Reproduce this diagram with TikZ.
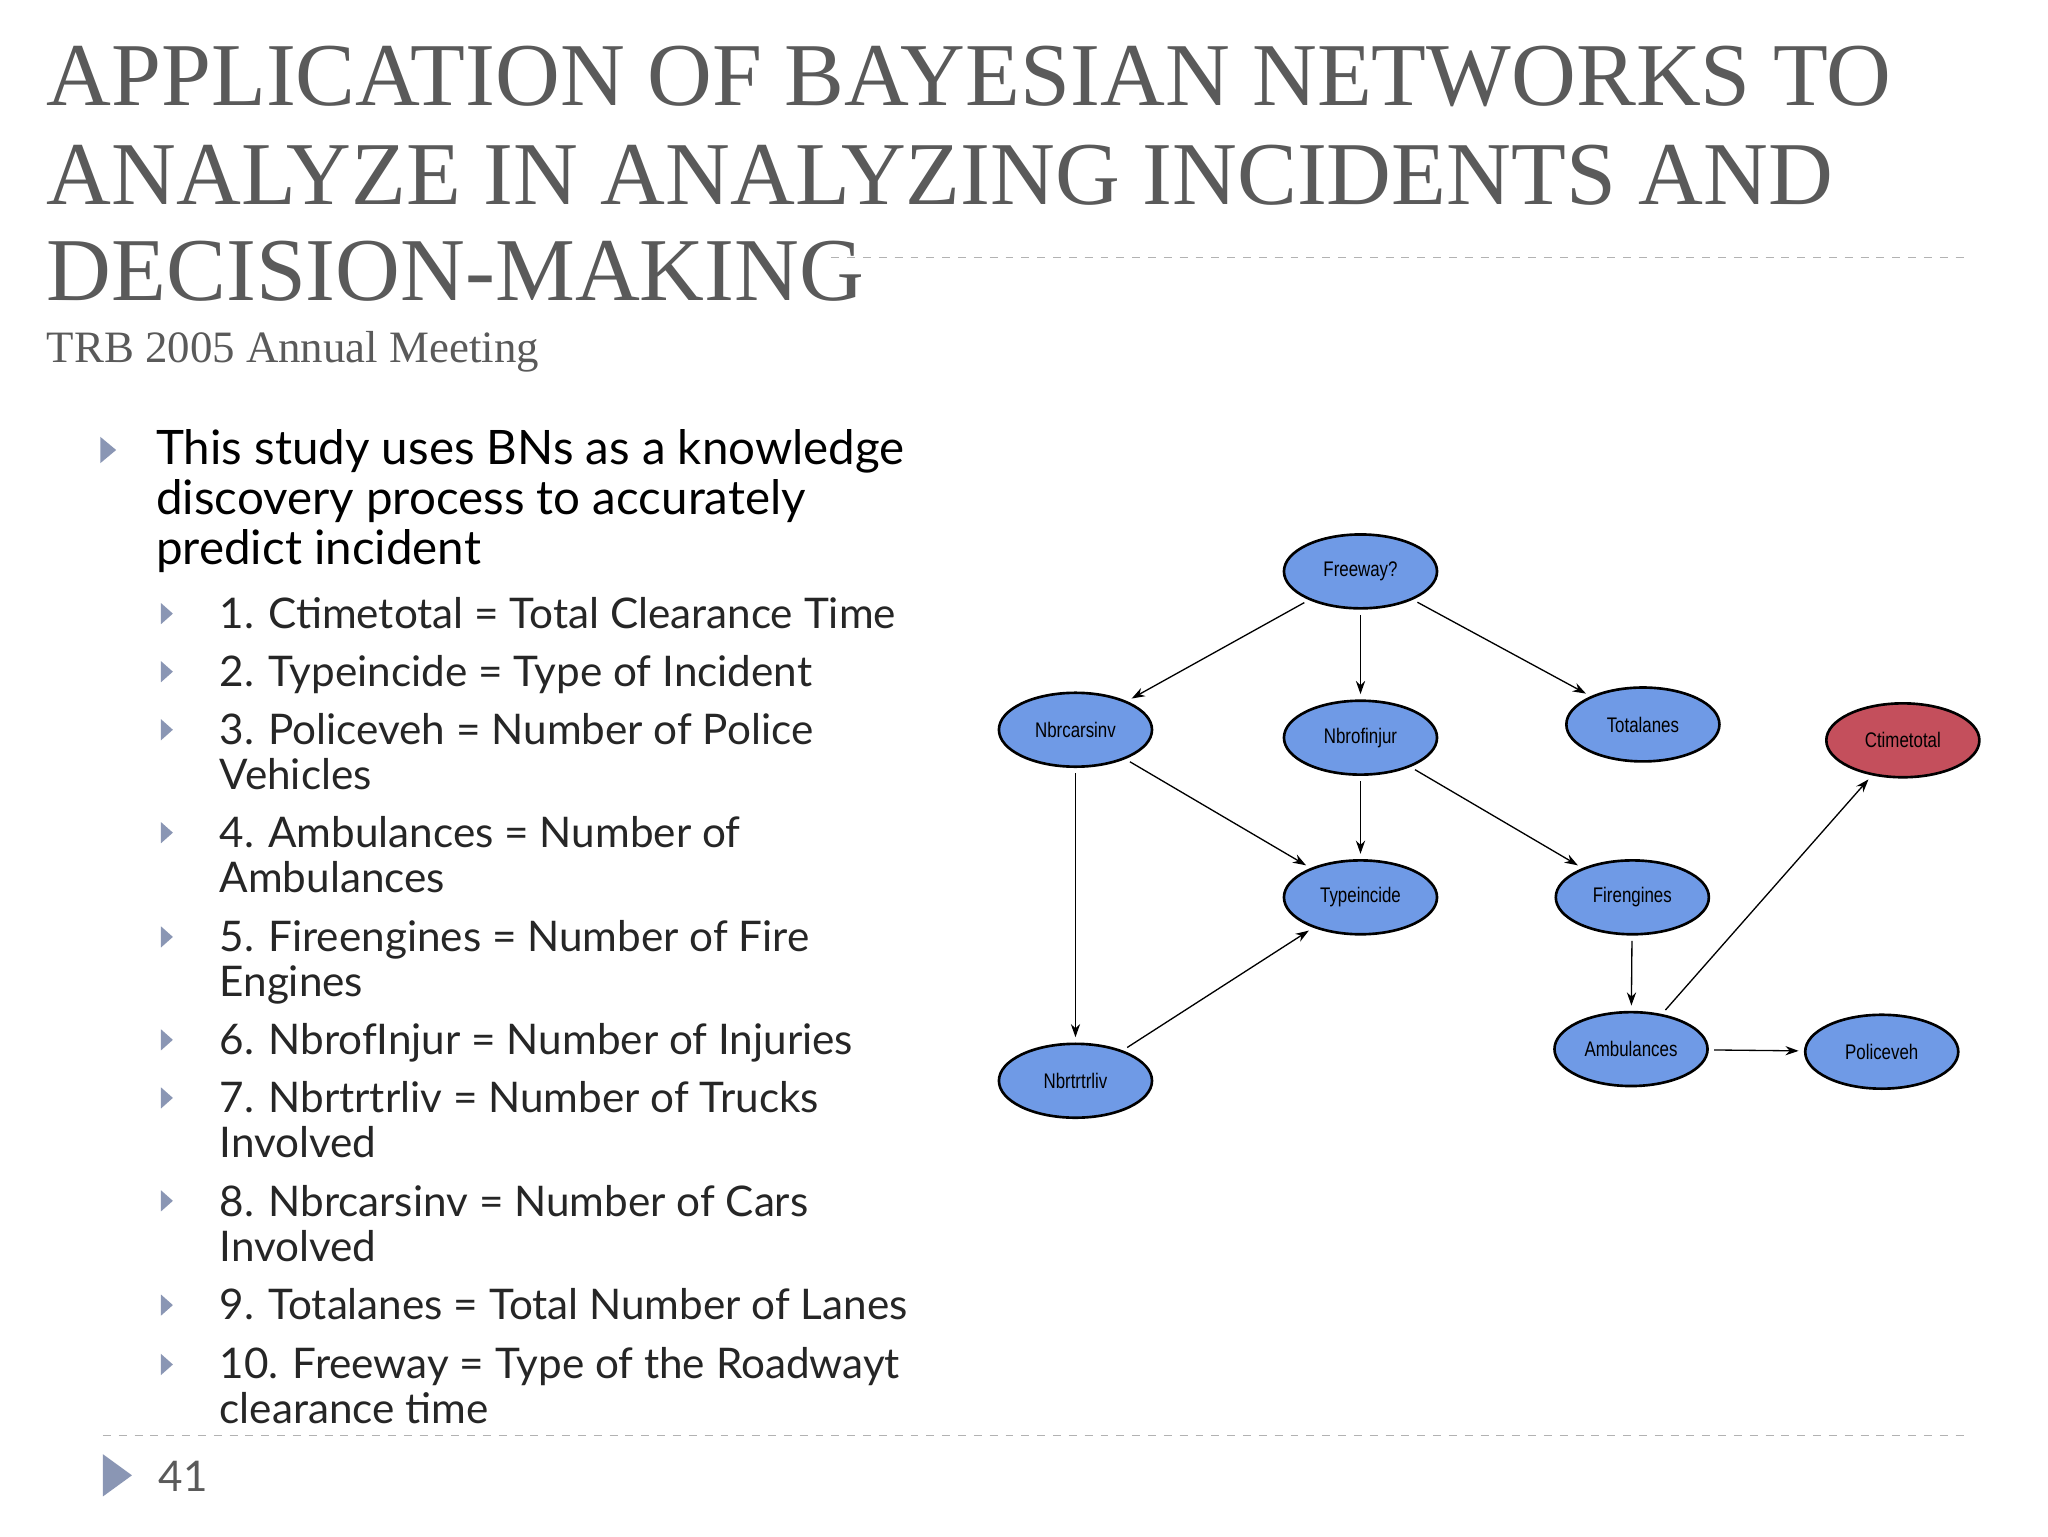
\documentclass[tikz,border=0pt]{standalone}
\usepackage{fontspec}
\setmainfont{Liberation Serif}
\newfontfamily\bodyf{Lato}
\newfontfamily\nodef{Liberation Sans}[FakeStretch=0.8]
\usetikzlibrary{shapes.geometric,arrows.meta}
\definecolor{ttl}{HTML}{5A5A5A}
\definecolor{bul}{HTML}{8A96B4}
\definecolor{nblue}{HTML}{6F9AE6}
\definecolor{nred}{HTML}{C44F5C}
\begin{document}
\begin{tikzpicture}[x=0.5pt,y=-0.5pt,
  bn/.style={ellipse,draw=black,line width=1pt,fill=nblue,minimum width=58pt,minimum height=28pt,inner sep=0pt,font=\fontsize{8}{9}\nodef},
  ar/.style={-{Stealth[length=5pt,width=3.5pt]},line width=0.5pt,shorten <=2pt,shorten >=2pt},
  tl/.style={anchor=base west,inner sep=0pt,font=\fontsize{34}{34}\selectfont,text=ttl},
  bt/.style={anchor=base west,inner sep=0pt,font=\fontsize{18}{18}\bodyf,text=black},
  st/.style={anchor=base west,inner sep=0pt,font=\fontsize{16}{16}\bodyf,text=black!85},
  tri/.style={fill=bul,draw=none}]
\useasboundingbox (0,0) rectangle (1552,1164);
\fill[white] (0,0) rectangle (1552,1164);
% title
\node[tl] (t1) at (35,80) {APPLICATION OF BAYESIAN NETWORKS TO};
\node[tl] (t2) at (35,155) {ANALYZE IN ANALYZING INCIDENTS AND};
\node[tl] (t3) at (35,228) {DECISION-MAKING};
\node[anchor=base west,inner sep=0pt,font=\fontsize{17}{17}\selectfont,text=ttl] (sub) at (35,275) {TRB 2005 Annual Meeting};
\draw[dashed,gray!60,line width=0.5pt] (630,195) -- (1490,195);
\draw[dashed,gray!60,line width=0.5pt] (78,1088) -- (1490,1088);
% bullets
\fill[tri] (76,331) -- (88,341) -- (76,351) -- cycle;
\node[bt] (b1) at (118,352) {This study uses BNs as a knowledge};
\node[bt] (b2) at (118,390) {discovery process to accurately};
\node[bt] (b3) at (118,428) {predict incident};
\foreach \y in {465,509,553,631,710,788,832,910,989,1034}
  \fill[tri] (122,\y-8) -- (131,\y) -- (122,\y+8) -- cycle;
\node[st] at (166,476) {1. Ctimetotal = Total Clearance Time};
\node[st] at (166,520) {2. Typeincide = Type of Incident};
\node[st] at (166,564) {3. Policeveh = Number of Police};
\node[st] at (166,598) {Vehicles};
\node[st] at (166,642) {4. Ambulances = Number of};
\node[st] at (166,676) {Ambulances};
\node[st] at (166,721) {5. Fireengines = Number of Fire};
\node[st] at (166,755) {Engines};
\node[st] at (166,799) {6. NbrofInjur = Number of Injuries};
\node[st] at (166,843) {7. Nbrtrtrliv = Number of Trucks};
\node[st] at (166,877) {Involved};
\node[st] at (166,922) {8. Nbrcarsinv = Number of Cars};
\node[st] at (166,956) {Involved};
\node[st] at (166,1000) {9. Totalanes = Total Number of Lanes};
\node[st] at (166,1045) {10. Freeway = Type of the Roadwayt};
\node[st] at (166,1079) {clearance time};
% footer
\fill[tri] (78,1102) -- (100,1118) -- (78,1134) -- cycle;
\node[anchor=base west,inner sep=0pt,font=\fontsize{16}{16}\bodyf,text=ttl] (pg) at (120,1130) {41};
% network
\node[bn] (fw) at (1031,433) {Freeway?};
\node[bn] (nc) at (815,553) {Nbrcarsinv};
\node[bn] (ni) at (1031,559) {Nbrofinjur};
\node[bn] (tla) at (1245,549) {Totalanes};
\node[bn,fill=nred] (ct) at (1442,561) {Ctimetotal};
\node[bn] (ty) at (1031,680) {Typeincide};
\node[bn] (fe) at (1237,680) {Firengines};
\node[bn] (am) at (1236,795) {Ambulances};
\node[bn] (pv) at (1426,797) {Policeveh};
\node[bn] (nt) at (815,819) {Nbrtrtrliv};
\draw[ar] (fw) -- (nc);
\draw[ar] (fw) -- (ni);
\draw[ar] (fw) -- (tla);
\draw[ar] (nc) -- (ty);
\draw[ar] (nc) -- (nt);
\draw[ar] (ni) -- (ty);
\draw[ar] (ni) -- (fe);
\draw[ar] (nt) -- (ty);
\draw[ar] (fe) -- (am);
\draw[ar] (am) -- (pv);
\draw[ar] (am) -- (ct);
\end{tikzpicture}
\end{document}
